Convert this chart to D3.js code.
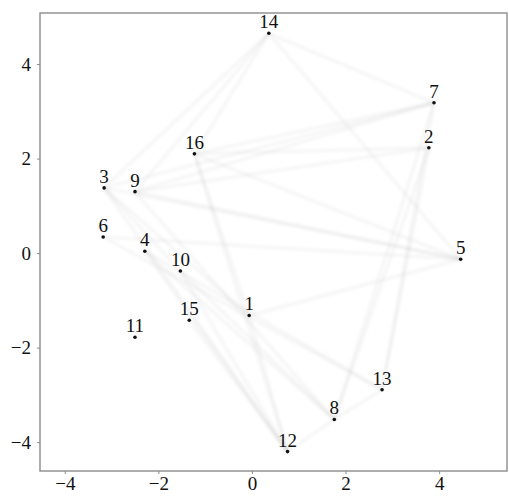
<!DOCTYPE html>
<html>
<head>
<meta charset="utf-8">
<script src="https://cdn.jsdelivr.net/npm/d3@7"></script>
<style>
  html, body { margin: 0; padding: 0; background: #fff; }
  svg { display: block; }
</style>
</head>
<body>
<div id="chart"></div>
<script>
// Node layout (2-D embedding coordinates)
const nodeIds = [1, 2, 3, 4, 5, 6, 7, 8, 9, 10, 11, 12, 13, 14, 15, 16];
const nodeX = [-0.06, 3.78, -3.16, -2.29, 4.46, -3.18, 3.89, 1.76, -2.50, -1.53, -2.50, 0.76, 2.78, 0.36, -1.34, -1.23];
const nodeY = [-1.32, 2.23, 1.38, 0.04, -0.13, 0.34, 3.18, -3.52, 1.30, -0.38, -1.78, -4.20, -2.89, 4.65, -1.42, 2.10];

// Links between nodes (source id, target id)
const edgeSource = [14, 14, 14, 14, 14, 9, 3, 16, 16, 9, 16, 2, 7, 2, 7, 5, 5, 5, 5, 6, 3, 4, 4, 10, 15, 1, 3, 16, 4, 10, 9, 16, 12, 8, 3];
const edgeTarget = [3, 9, 16, 5, 7, 7, 7, 7, 2, 2, 5, 13, 13, 8, 8, 9, 1, 6, 3, 13, 1, 13, 12, 12, 12, 12, 12, 12, 8, 8, 8, 1, 8, 13, 10];

// Axis ticks
const xTicks = [-4, -2, 0, 2, 4];
const yTicks = [-4, -2, 0, 2, 4];

const W = 509, H = 497;
const margin = { left: 40, right: 2, top: 13, bottom: 26 };
const FONT = "'Liberation Serif', 'DejaVu Serif', serif";

const svg = d3.select("#chart").append("svg")
  .attr("width", W).attr("height", H);

const x = d3.scaleLinear().domain([-4.53, 5.45]).range([margin.left, W - margin.right]);
const y = d3.scaleLinear().domain([-4.61, 5.08]).range([H - margin.bottom, margin.top]);

const defs = svg.append("defs");
defs.append("filter").attr("id", "soft")
  .attr("x", "-10%").attr("y", "-10%").attr("width", "120%").attr("height", "120%")
  .append("feGaussianBlur").attr("stdDeviation", 1.5);

const nodes = nodeIds.map((id, i) => ({ id, x: nodeX[i], y: nodeY[i] }));
const byId = new Map(nodes.map(d => [d.id, d]));
const edges = edgeSource.map((s, i) => ({ s: byId.get(s), t: byId.get(edgeTarget[i]) }));

// Faint, soft links
svg.append("g").attr("filter", "url(#soft)")
  .selectAll("line").data(edges).join("line")
  .attr("x1", d => x(d.s.x)).attr("y1", d => y(d.s.y))
  .attr("x2", d => x(d.t.x)).attr("y2", d => y(d.t.y))
  .attr("stroke", "#000").attr("stroke-opacity", 0.04)
  .attr("stroke-width", 3);

// Frame
svg.append("rect")
  .attr("x", margin.left).attr("y", margin.top)
  .attr("width", W - margin.right - margin.left)
  .attr("height", H - margin.bottom - margin.top)
  .attr("fill", "none").attr("stroke", "#8c8c8c").attr("stroke-width", 1.4);

// Axes
const xAxis = svg.append("g")
  .attr("transform", `translate(0,${H - margin.bottom})`)
  .call(d3.axisBottom(x).tickValues(xTicks).tickSize(3).tickPadding(3));
const yAxis = svg.append("g")
  .attr("transform", `translate(${margin.left},0)`)
  .call(d3.axisLeft(y).tickValues(yTicks).tickSize(3).tickPadding(6));

[xAxis, yAxis].forEach(g => {
  g.attr("font-family", FONT).attr("font-size", 19);
  g.select(".domain").remove();
  g.selectAll(".tick line").attr("stroke", "#8c8c8c");
  g.selectAll(".tick text").attr("fill", "#111");
});

// Node points
svg.append("g").selectAll("circle").data(nodes).join("circle")
  .attr("cx", d => x(d.x)).attr("cy", d => y(d.y))
  .attr("r", 1.8).attr("fill", "#111");

// Node labels
svg.append("g")
  .attr("font-family", FONT).attr("font-size", 19)
  .selectAll("text").data(nodes).join("text")
  .attr("x", d => x(d.x)).attr("y", d => y(d.y) - 5)
  .attr("text-anchor", "middle")
  .attr("fill", "#111")
  .text(d => d.id);
</script>
</body>
</html>
